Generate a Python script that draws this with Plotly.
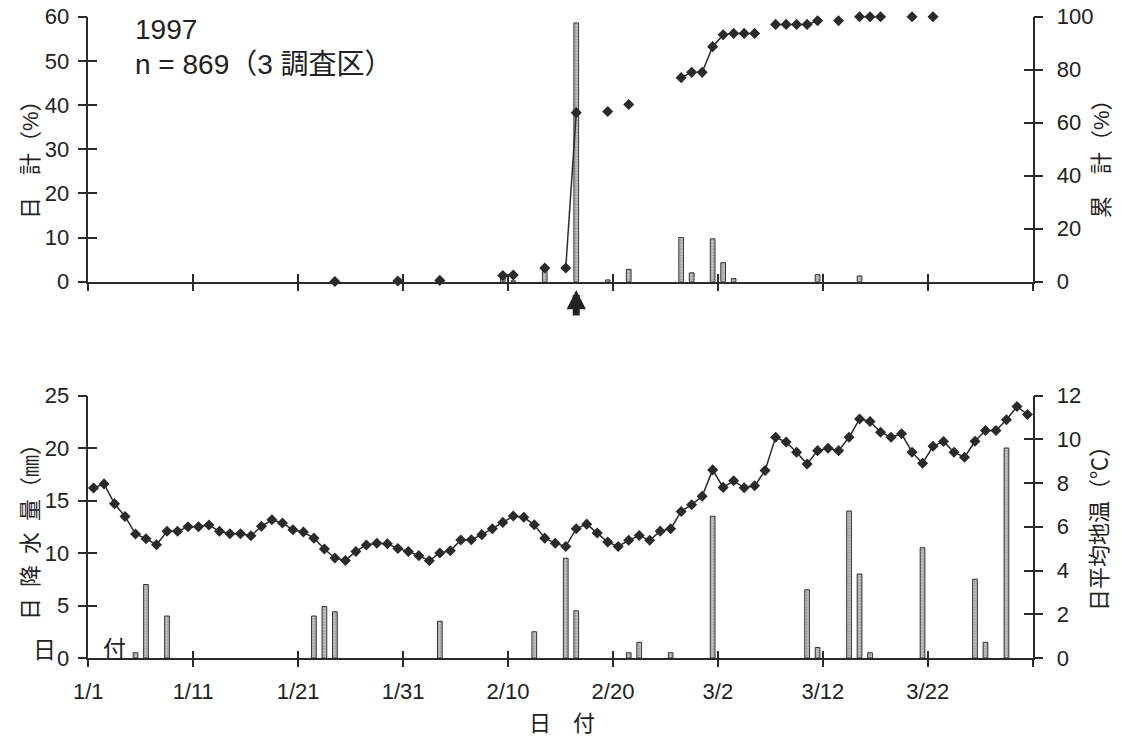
import plotly.graph_objects as go
import pandas as pd

YEAR = 1997

# ---- top chart: emergence (daily % and cumulative %) ----
survey_dates = ["1/24", "1/30", "2/3", "2/9", "2/10", "2/13", "2/15", "2/16", "2/19", "2/21",
                "2/26", "2/27", "2/28", "3/1", "3/2", "3/3", "3/4", "3/5", "3/7", "3/8",
                "3/9", "3/10", "3/11", "3/13", "3/15", "3/16", "3/17", "3/20", "3/22"]
daily_pct = [0.1, 0.2, 0.2, 1.8, 0.2, 2.5, 0.0, 58.6, 0.4, 2.8,
             10.0, 2.0, 0.0, 9.7, 4.3, 0.7, 0.0, 0.0, 0.0, 0.0,
             0.0, 0.0, 1.6, 0.0, 1.3, 0.0, 0.0, 0.0, 0.0]
cumulative_pct = [0.1, 0.3, 0.5, 2.3, 2.5, 5.2, 5.2, 63.8, 64.2, 66.9,
                  77.0, 79.0, 79.0, 88.7, 93.2, 93.7, 93.7, 93.7, 97.1, 97.1,
                  97.1, 97.1, 98.5, 98.5, 100.0, 100.0, 100.0, 100.0, 100.0]

# ---- bottom chart: daily precipitation (mm) and mean soil temperature (C) ----
rain_dates = ["1/5", "1/6", "1/8", "1/22", "1/23", "1/24", "2/3", "2/12", "2/15", "2/16",
              "2/21", "2/22", "2/25", "3/1", "3/10", "3/11", "3/14", "3/15", "3/16", "3/21",
              "3/26", "3/27", "3/29"]
rain_mm = [0.5, 7.0, 4.0, 4.0, 4.9, 4.4, 3.5, 2.5, 9.5, 4.5,
           0.5, 1.5, 0.5, 13.5, 6.5, 1.0, 14.0, 8.0, 0.5, 10.5,
           7.5, 1.5, 20.0]
# daily values 1/1 ... 3/31
soil_temp = [7.77, 7.96, 7.05, 6.47, 5.67, 5.45, 5.18, 5.79, 5.79, 6.00,
             6.00, 6.08, 5.79, 5.68, 5.68, 5.59, 6.02, 6.32, 6.17, 5.86,
             5.76, 5.48, 4.98, 4.57, 4.46, 4.87, 5.17, 5.25, 5.22, 5.01,
             4.87, 4.68, 4.45, 4.80, 4.90, 5.39, 5.41, 5.64, 5.91, 6.20,
             6.49, 6.43, 6.09, 5.48, 5.25, 5.10, 5.91, 6.12, 5.71, 5.30,
             5.10, 5.38, 5.60, 5.38, 5.80, 5.91, 6.70, 7.01, 7.39, 8.60,
             7.80, 8.10, 7.78, 7.87, 8.57, 10.09, 9.87, 9.41, 8.87, 9.48,
             9.59, 9.48, 10.09, 10.93, 10.81, 10.32, 10.09, 10.25, 9.41, 8.90,
             9.68, 9.90, 9.41, 9.18, 9.91, 10.40, 10.40, 10.89, 11.50, 11.13]

tick_labels = ["1/1", "1/11", "1/21", "1/31", "2/10", "2/20", "3/2", "3/12", "3/22"]

start = pd.Timestamp(YEAR, 1, 1)


def day_index(md):
    m, d = md.split("/")
    return (pd.Timestamp(YEAR, int(m), int(d)) - start).days


n_days = len(soil_temp)
days = list(range(n_days))

cum_full = [None] * n_days
for md, v in zip(survey_dates, cumulative_pct):
    cum_full[day_index(md)] = v

bar_top_x = [day_index(md) for md, v in zip(survey_dates, daily_pct) if v > 0]
bar_top_y = [v for v in daily_pct if v > 0]
rain_x = [day_index(md) for md in rain_dates]

tickvals = [day_index(t) - 0.5 for t in tick_labels] + [n_days - 0.5]
ticktext = tick_labels + [""]

W, H = 1122, 738
X0, X1 = 88.3 / W, 1032.7 / W
TOP = [1 - 281.7 / H, 1 - 16.7 / H]
BOT = [1 - 658.0 / H, 1 - 395.5 / H]

INK = "#222222"
LINE = "#2b2b2b"
FONT = "Liberation Sans, Arial, Noto Sans CJK JP, sans-serif"

bar_style = dict(color="#dcdcdc", line=dict(color="#333333", width=1),
                 pattern=dict(shape=".", fgcolor="#444444", size=3, solidity=0.5))
diamond = dict(symbol="diamond", size=8.5, color="#2a2a2a", line=dict(width=0))

fig = go.Figure()

# top chart
fig.add_trace(go.Bar(x=bar_top_x, y=bar_top_y, width=0.45, marker=bar_style,
                     xaxis="x", yaxis="y", showlegend=False, hoverinfo="skip"))
fig.add_trace(go.Scatter(x=days, y=cum_full, mode="lines+markers", connectgaps=False,
                         line=dict(color=LINE, width=1.5), marker=diamond, cliponaxis=False,
                         xaxis="x", yaxis="y2", showlegend=False))
# bottom chart
fig.add_trace(go.Bar(x=rain_x, y=rain_mm, width=0.45, marker=bar_style,
                     xaxis="x2", yaxis="y3", showlegend=False, hoverinfo="skip"))
fig.add_trace(go.Scatter(x=days, y=soil_temp, mode="lines+markers", cliponaxis=False,
                         line=dict(color=LINE, width=1.5), marker=diamond,
                         xaxis="x2", yaxis="y4", showlegend=False))

# invisible traces so the inner-tick overlay axes are drawn
for xa, ya in [("x3", "y"), ("x", "y5"), ("x", "y6"), ("x4", "y3"), ("x2", "y7"), ("x2", "y8")]:
    fig.add_trace(go.Scatter(x=[None], y=[None], xaxis=xa, yaxis=ya, showlegend=False,
                             hoverinfo="skip"))

base = dict(showgrid=False, zeroline=False, linecolor=LINE, linewidth=1.5,
            tickcolor=LINE, tickwidth=1.5, tickfont=dict(size=22, color=INK, family=FONT),
            automargin=False, fixedrange=True)

xcommon = dict(base, range=[-0.5, n_days - 0.5], tickmode="array",
               tickvals=tickvals, ticktext=ticktext, domain=[X0, X1])
inner_x = dict(xcommon, showline=False, ticks="inside", showticklabels=False)


def inner_y(rng, dt, over, side):
    return dict(base, range=rng, dtick=dt, tick0=0, showline=False, ticks="inside",
                ticklen=9, showticklabels=False, overlaying=over, side=side,
                anchor="x" if over == "y" else "x2")


fig.update_layout(
    width=W, height=H,
    margin=dict(l=0, r=0, t=0, b=0),
    paper_bgcolor="white", plot_bgcolor="rgba(0,0,0,0)",
    font=dict(family=FONT, color=INK),
    barmode="overlay",
    xaxis=dict(xcommon, anchor="y", ticks="outside", ticklen=8, showticklabels=False, showline=True),
    xaxis3=dict(inner_x, anchor="y", overlaying="x", ticklen=8),
    xaxis2=dict(xcommon, anchor="y3", ticks="outside", ticklen=7, showline=True,
                ticklabelstandoff=6),
    xaxis4=dict(inner_x, anchor="y3", overlaying="x2", ticklen=7),
    yaxis=dict(base, domain=TOP, anchor="x", range=[0, 60], dtick=10, tick0=0,
               ticks="outside", ticklen=9, showline=True, ticklabelstandoff=4),
    yaxis2=dict(base, anchor="x", overlaying="y", side="right", range=[0, 100], dtick=20,
                tick0=0, ticks="outside", ticklen=9, showline=True, ticklabelstandoff=9),
    yaxis5=inner_y([0, 60], 10, "y", "left"),
    yaxis6=inner_y([0, 100], 20, "y", "right"),
    yaxis3=dict(base, domain=BOT, anchor="x2", range=[0, 25], dtick=5, tick0=0,
                ticks="outside", ticklen=9, showline=True, ticklabelstandoff=4),
    yaxis4=dict(base, anchor="x2", overlaying="y3", side="right", range=[0, 12], dtick=2,
                tick0=0, ticks="outside", ticklen=9, showline=True, ticklabelstandoff=9),
    yaxis7=inner_y([0, 25], 5, "y3", "left"),
    yaxis8=inner_y([0, 12], 2, "y3", "right"),
)

ann_font = dict(family=FONT, size=22, color=INK)
big_font = dict(family=FONT, size=28, color=INK)
annotations = [
    dict(text="1997", x=133 / W, y=1 - 29 / H, xanchor="left", font=big_font),
    dict(text="n = 869（3 調査区）", x=133 / W, y=1 - 65 / H, xanchor="left", font=big_font),
    dict(text="日　計（%）", x=30 / W, y=1 - 154 / H, textangle=-90, font=ann_font),
    dict(text="累　計（%）", x=1102 / W, y=1 - 153 / H, textangle=-90, font=ann_font),
    dict(text="日\u2002降\u2002水\u2002量（㎜）", x=30 / W, y=1 - 527 / H, textangle=-90, font=ann_font),
    dict(text="日平均地温（℃）", x=1099 / W, y=1 - 523 / H, textangle=-90, font=ann_font),
    dict(text="日　付", x=562 / W, y=1 - 723 / H, font=ann_font),
    dict(text="日", x=44 / W, y=1 - 650 / H, font=dict(family=FONT, size=23, color=INK)),
    dict(text="付", x=114 / W, y=1 - 649 / H, font=dict(family=FONT, size=23, color=INK)),
]
for a in annotations:
    a.setdefault("xref", "paper")
    a.setdefault("yref", "paper")
    a.setdefault("xanchor", "center")
    a.setdefault("yanchor", "middle")
    a.setdefault("showarrow", False)

peak_day = bar_top_x[bar_top_y.index(max(bar_top_y))]
annotations.append(dict(x=peak_day, xref="x", y=1 - 290 / H, yref="paper", text="",
                        showarrow=True, ax=0, ay=27, arrowhead=2, arrowwidth=7,
                        arrowsize=0.55, arrowcolor="#222222"))
fig.update_layout(annotations=annotations)

fig.write_html("out.html", config={"displayModeBar": False})
